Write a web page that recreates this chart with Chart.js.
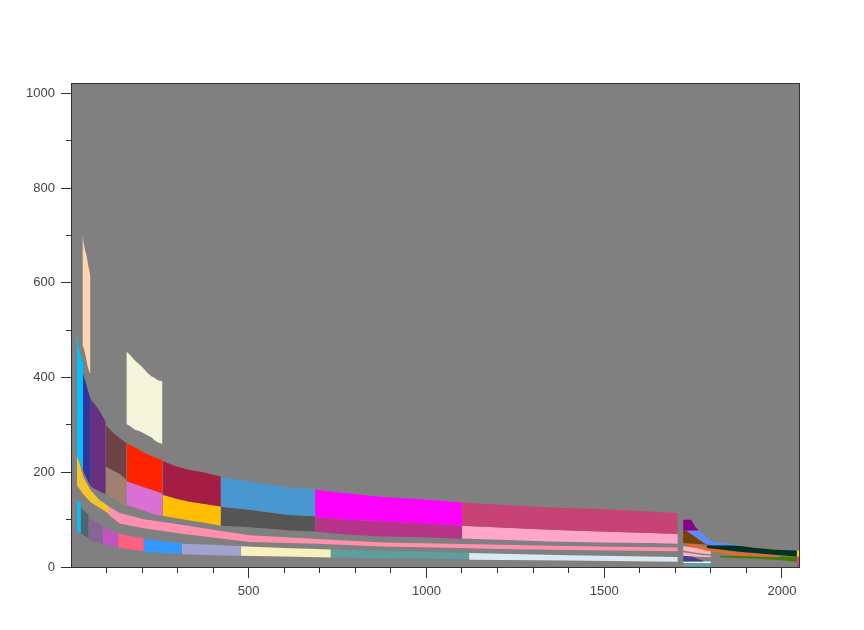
<!DOCTYPE html>
<html><head><meta charset="utf-8">
<script src="https://cdn.jsdelivr.net/npm/chart.js@4.4.1/dist/chart.umd.min.js"></script>
<style>html,body{margin:0;padding:0;background:#fff;}canvas{display:block;}</style>
</head><body>
<canvas id="c" width="864" height="630"></canvas>
<script>
// ---------- axes ----------
const xMin = 3, xMax = 2048, yMin = 0, yMax = 1020;
const xTickLabels = [500, 1000, 1500, 2000];
const xMinorTicks = [100,200,300,400,600,700,800,900,1100,1200,1300,1400,1600,1700,1800,1900];
const yTickLabels = [0, 200, 400, 600, 800, 1000];
const yMinorTicks = [100, 300, 500, 700, 900];

// ---------- upper strand ----------
const aCyanX = [17, 22, 28, 34];
const aCyanTop = [492, 465, 444, 430];
const aCyanBot = [236, 228, 214, 204];
const aNavyX = [34, 41, 48, 56];
const aNavyTop = [408, 392, 372, 353];
const aNavyBot = [204, 192, 181, 170];
const aPurpleX = [56, 65, 75, 85, 98];
const aPurpleTop = [353, 346, 336, 324, 306];
const aPurpleBot = [170, 166, 162, 158, 154];
const aBrownX = [98, 118, 137, 156];
const aBrownTop = [300, 284, 272, 262];
const aBrownMid = [212, 204, 197, 184];
const aBrownBot = [153, 145, 135, 128];
const aRedX = [156, 184, 212, 240, 257.5];
const aRedTop = [262, 251, 239, 230, 226];
const aRedMid = [181, 174, 167, 160, 155];
const aRedBot = [131, 124.5, 117, 110, 108];
const aCrimsonX = [257.5, 297, 334, 372, 421.6];
const aCrimsonTop = [224, 212, 205, 200, 191];
const aCrimsonMid = [152.5, 144, 138, 133.5, 128];
const aCrimsonBot = [108, 103, 98, 94, 87];
const aBlueX = [421.6, 503, 560, 616, 687];
const aBlueTop = [190, 180.6, 173.6, 168, 164.5];
const aBlueMid = [127, 121, 115, 110, 107];
const aBlueBot = [87, 84, 81, 77, 75];
const aMagentaX = [687, 785, 878, 972, 1100];
const aMagentaTop = [163, 154.6, 147.6, 143.4, 136];
const aMagentaMid = [105.5, 99.8, 96.2, 92.8, 87];
const aMagentaBot = [74.5, 68, 64.6, 63.3, 59.7];
const aRoseX = [1100, 1207, 1348, 1489, 1629, 1707];
const aRoseTop = [136, 131.4, 125.7, 122.3, 117.3, 114];
const aRoseMid = [87, 83.5, 78.7, 75, 71.7, 69.6];
const aRoseBot = [60.3, 57.6, 54, 52, 50.6, 49];

// ---------- middle strand ----------
const bYellowX = [17, 25, 34, 45, 56, 70, 81, 95, 107];
const bYellowTop = [236, 218, 192, 176, 162, 150, 141, 134, 128];
const bYellowBot = [172, 164, 154, 145, 136, 130, 124.5, 118, 112];
const bPinkX = [107, 137, 205, 312, 422, 503, 691, 878, 1066, 1207, 1348, 1530, 1707];
const bPinkTop = [128, 114, 101, 89, 76, 67, 59, 52, 49, 47, 45, 43, 41.4];
const bPinkBot = [110, 92, 82, 70, 60, 53, 49, 43.5, 40.5, 38, 36.5, 35, 33];

// ---------- lower strand ----------
const cCyanX = [17, 27.6];          const cCyanTop = [142, 135];        const cCyanBot = [75, 72];
const cSlateX = [27.6, 38, 50];     const cSlateTop = [126, 118, 110];  const cSlateBot = [70, 66, 61];
const cLilacX = [50, 70, 90];       const cLilacTop = [105, 95, 87];    const cLilacBot = [57, 52, 48];
const cFuchsiaX = [90, 110, 133];   const cFuchsiaTop = [85, 78, 72];   const cFuchsiaBot = [48, 45, 42];
const cRoseX = [133, 170, 205];     const cRoseTop = [71, 65, 60];      const cRoseBot = [41, 37, 33];
const cAzureX = [205, 260, 312];    const cAzureTop = [60, 54, 50];     const cAzureBot = [31, 29.5, 28];
const cBellX = [312, 400, 477];     const cBellTop = [49, 47, 44];      const cBellBot = [27, 25, 23.5];
const cBlondX = [477, 600, 731];    const cBlondTop = [44, 40, 37];     const cBlondBot = [24, 22, 20.3];
const cCadetX = [731, 920, 1120];   const cCadetTop = [36.5, 33, 29.5]; const cCadetBot = [20.3, 18.5, 17];
const cWhiteX = [1120, 1400, 1707]; const cWhiteTop = [29.5, 25, 21];   const cWhiteBot = [15.4, 13.5, 11.2];

// ---------- floating pieces ----------
const peachX = [32.4, 35.2, 38, 40.8, 43.6, 46.5, 49.3, 52, 55];
const peachTop = [700, 687, 676, 666, 659, 647, 634, 626, 613];
const peachBot = [469, 464, 456, 448, 437, 425, 418, 410, 410];
const beigeX = [156, 167, 180, 192, 203, 214, 226, 236, 245, 257.5];
const beigeTop = [455, 447, 436, 428, 420, 411, 403, 399, 394, 393];
const beigeBot = [302, 297, 290, 287, 283, 279, 274, 267, 263, 260];

// ---------- right cluster ----------
const rPurpleX = [1722, 1745, 1751, 1756, 1765];
const rPurpleTop = [100, 100, 92, 85, 78];
const rPurpleBot = [77, 77, 77, 77, 77];
const rCornX = [1730, 1765, 1775, 1785, 1795, 1805, 1820, 1850, 1882];
const rCornTop = [77, 77, 71, 64, 58, 54, 51.5, 49, 47];
const rCornBot = [77, 59, 54, 49, 46.5, 46, 46, 46, 46];
const rBrownX = [1722, 1730, 1765, 1775, 1785, 1790];
const rBrownTop = [77, 77, 59, 54, 49, 47];
const rBrownBot = [50.6, 50, 48.5, 48, 47.5, 47];
const rOrangeX = [1732, 1760, 1789, 1840, 1868, 1924, 1986];
const rOrangeTop = [50, 47, 43, 35, 31, 28, 25];
const rOrangeBot = [44, 40, 35, 28, 24.5, 23, 21];
const rGreenX = [1789, 1840, 1868, 1896, 1924, 1953, 1981, 2042];
const rGreenTop = [46, 46, 45.6, 43.5, 40, 38.7, 36.5, 35];
const rGreenBot = [40, 36, 33, 31, 29.5, 27.5, 26, 22.4];
const rOliveX = [1826, 1868, 1924, 1986, 2000, 2042];
const rOliveTop = [24, 23.5, 22, 20.5, 22, 22.4];
const rOliveBot = [20, 19, 17.5, 15, 14, 10.5];
const rGoldX = [2042, 2048];  const rGoldTop = [35, 35];     const rGoldBot = [22.4, 22.4];
const rCeriseX = [2042, 2048]; const rCeriseTop = [22.4, 22.4]; const rCeriseBot = [1, 1];
const rPinkAX = [1722, 1750, 1780, 1800]; const rPinkATop = [44, 41, 37, 34]; const rPinkABot = [35, 31, 28, 27];
const rPinkBX = [1722, 1750, 1780, 1800]; const rPinkBTop = [31, 28, 25, 24.5]; const rPinkBBot = [24, 22, 21, 21];
const rSlateX = [1722, 1745, 1760, 1779]; const rSlateTop = [23.8, 23, 18, 13]; const rSlateBot = [11.8, 11.8, 11.8, 11.8];
const rAliceX = [1722, 1800]; const rAliceTop = [11.8, 11.8]; const rAliceBot = [8.4, 8.4];
const rTealX = [1722, 1800];  const rTealTop = [8.4, 8.4];   const rTealBot = [1.3, 1.3];

// ---------- bands: [x, upper, lower, colour] ----------
const bands = [
  [peachX, peachTop, peachBot, '#FFD6B0'],
  [beigeX, beigeTop, beigeBot, '#F5F5DC'],
  [aCyanX, aCyanTop, aCyanBot, '#00BFFF'],
  [aNavyX, aNavyTop, aNavyBot, '#333399'],
  [aPurpleX, aPurpleTop, aPurpleBot, '#69307F'],
  [aBrownX, aBrownTop, aBrownMid, '#6F4246'],
  [aBrownX, aBrownMid, aBrownBot, '#A08070'],
  [aRedX, aRedTop, aRedMid, '#FF2400'],
  [aRedX, aRedMid, aRedBot, '#DA70D6'],
  [aCrimsonX, aCrimsonTop, aCrimsonMid, '#A51C45'],
  [aCrimsonX, aCrimsonMid, aCrimsonBot, '#FFBF00'],
  [aBlueX, aBlueTop, aBlueMid, '#4997D0'],
  [aBlueX, aBlueMid, aBlueBot, '#555555'],
  [aMagentaX, aMagentaTop, aMagentaMid, '#FF00FF'],
  [aMagentaX, aMagentaMid, aMagentaBot, '#B53389'],
  [aRoseX, aRoseTop, aRoseMid, '#C74375'],
  [aRoseX, aRoseMid, aRoseBot, '#FFA6C9'],
  [bYellowX, bYellowTop, bYellowBot, '#F4C430'],
  [bPinkX, bPinkTop, bPinkBot, '#FF91AF'],
  [cCyanX, cCyanTop, cCyanBot, '#00BFFF'],
  [cSlateX, cSlateTop, cSlateBot, '#4A6670'],
  [cLilacX, cLilacTop, cLilacBot, '#8A6496'],
  [cFuchsiaX, cFuchsiaTop, cFuchsiaBot, '#C154C1'],
  [cRoseX, cRoseTop, cRoseBot, '#FF6080'],
  [cAzureX, cAzureTop, cAzureBot, '#3399FF'],
  [cBellX, cBellTop, cBellBot, '#A2A2D0'],
  [cBlondX, cBlondTop, cBlondBot, '#FAF0BE'],
  [cCadetX, cCadetTop, cCadetBot, '#5F9EA0'],
  [cWhiteX, cWhiteTop, cWhiteBot, '#DBE9F4'],
  [rPurpleX, rPurpleTop, rPurpleBot, '#8B008B'],
  [rCornX, rCornTop, rCornBot, '#5A8CFF'],
  [rBrownX, rBrownTop, rBrownBot, '#7B3F00'],
  [rGreenX, rGreenTop, rGreenBot, '#013220'],
  [rOrangeX, rOrangeTop, rOrangeBot, '#E9692C'],
  [rOliveX, rOliveTop, rOliveBot, '#4A7B00'],
  [rGoldX, rGoldTop, rGoldBot, '#FFD700'],
  [rCeriseX, rCeriseTop, rCeriseBot, '#DE3F7A'],
  [rPinkAX, rPinkATop, rPinkABot, '#FFB6C1'],
  [rPinkBX, rPinkBTop, rPinkBBot, '#FFB6C1'],
  [rSlateX, rSlateTop, rSlateBot, '#483D8B'],
  [rAliceX, rAliceTop, rAliceBot, '#F0F8FF'],
  [rTealX, rTealTop, rTealBot, '#5F9EA0']
];

const datasets = [];
bands.forEach(([xs, up, lo, color]) => {
  datasets.push({ data: xs.map((x, i) => ({ x, y: lo[i] })), fill: false,
    borderColor: 'rgba(0,0,0,0)', borderWidth: 0, pointRadius: 0, tension: 0 });
  datasets.push({ data: xs.map((x, i) => ({ x, y: up[i] })), fill: '-1', backgroundColor: color,
    borderColor: 'rgba(0,0,0,0)', borderWidth: 0, pointRadius: 0, tension: 0 });
});

const frame = {
  id: 'frame',
  beforeDraw(chart) {
    const { ctx, chartArea: a } = chart;
    ctx.save();
    ctx.fillStyle = '#808080';
    ctx.fillRect(a.left, a.top, a.right - a.left, a.bottom - a.top);
    ctx.restore();
  },
  afterDraw(chart) {
    const { ctx, chartArea: a, scales: { x, y } } = chart;
    ctx.save();
    ctx.strokeStyle = '#333333';
    ctx.lineWidth = 1;
    ctx.strokeRect(a.left - 0.5, a.top - 0.5, a.right - a.left + 1, a.bottom - a.top + 1);
    ctx.beginPath();
    const xt = (v, len) => { const p = Math.floor(x.getPixelForValue(v)) + 0.5; ctx.moveTo(p, a.bottom + 1); ctx.lineTo(p, a.bottom + 1 + len); };
    const yt = (v, len) => { const p = Math.floor(y.getPixelForValue(v)) + 0.5; ctx.moveTo(a.left - 1, p); ctx.lineTo(a.left - 1 - len, p); };
    xTickLabels.forEach(v => xt(v, 10));
    xMinorTicks.forEach(v => xt(v, 5));
    yTickLabels.forEach(v => yt(v, 10));
    yMinorTicks.forEach(v => yt(v, 5));
    ctx.stroke();
    ctx.restore();
  }
};

new Chart(document.getElementById('c'), {
  type: 'line',
  data: { datasets },
  plugins: [frame],
  options: {
    responsive: false,
    animation: false,
    devicePixelRatio: 1,
    events: [],
    layout: { padding: { top: 84, right: 65, left: 0, bottom: 0 } },
    plugins: { legend: { display: false }, tooltip: { enabled: false }, filler: { propagate: false } },
    scales: {
      x: {
        type: 'linear', min: xMin, max: xMax,
        grid: { display: false, drawTicks: true, tickLength: 11 },
        border: { display: false },
        afterBuildTicks: s => { s.ticks = xTickLabels.map(v => ({ value: v })); },
        afterFit: s => { s.height = 63; },
        ticks: { padding: 6, color: '#444444', maxRotation: 0, autoSkip: false,
          font: { family: "'Liberation Sans', Arial, sans-serif", size: 13 },
          callback: v => String(v) }
      },
      y: {
        type: 'linear', min: yMin, max: yMax,
        grid: { display: false, drawTicks: true, tickLength: 10 },
        border: { display: false },
        afterBuildTicks: s => { s.ticks = yTickLabels.map(v => ({ value: v })); },
        afterFit: s => { s.width = 72; },
        ticks: { padding: 7, color: '#444444', autoSkip: false,
          font: { family: "'Liberation Sans', Arial, sans-serif", size: 13 },
          callback: v => String(v) }
      }
    }
  }
});
</script>
</body></html>
